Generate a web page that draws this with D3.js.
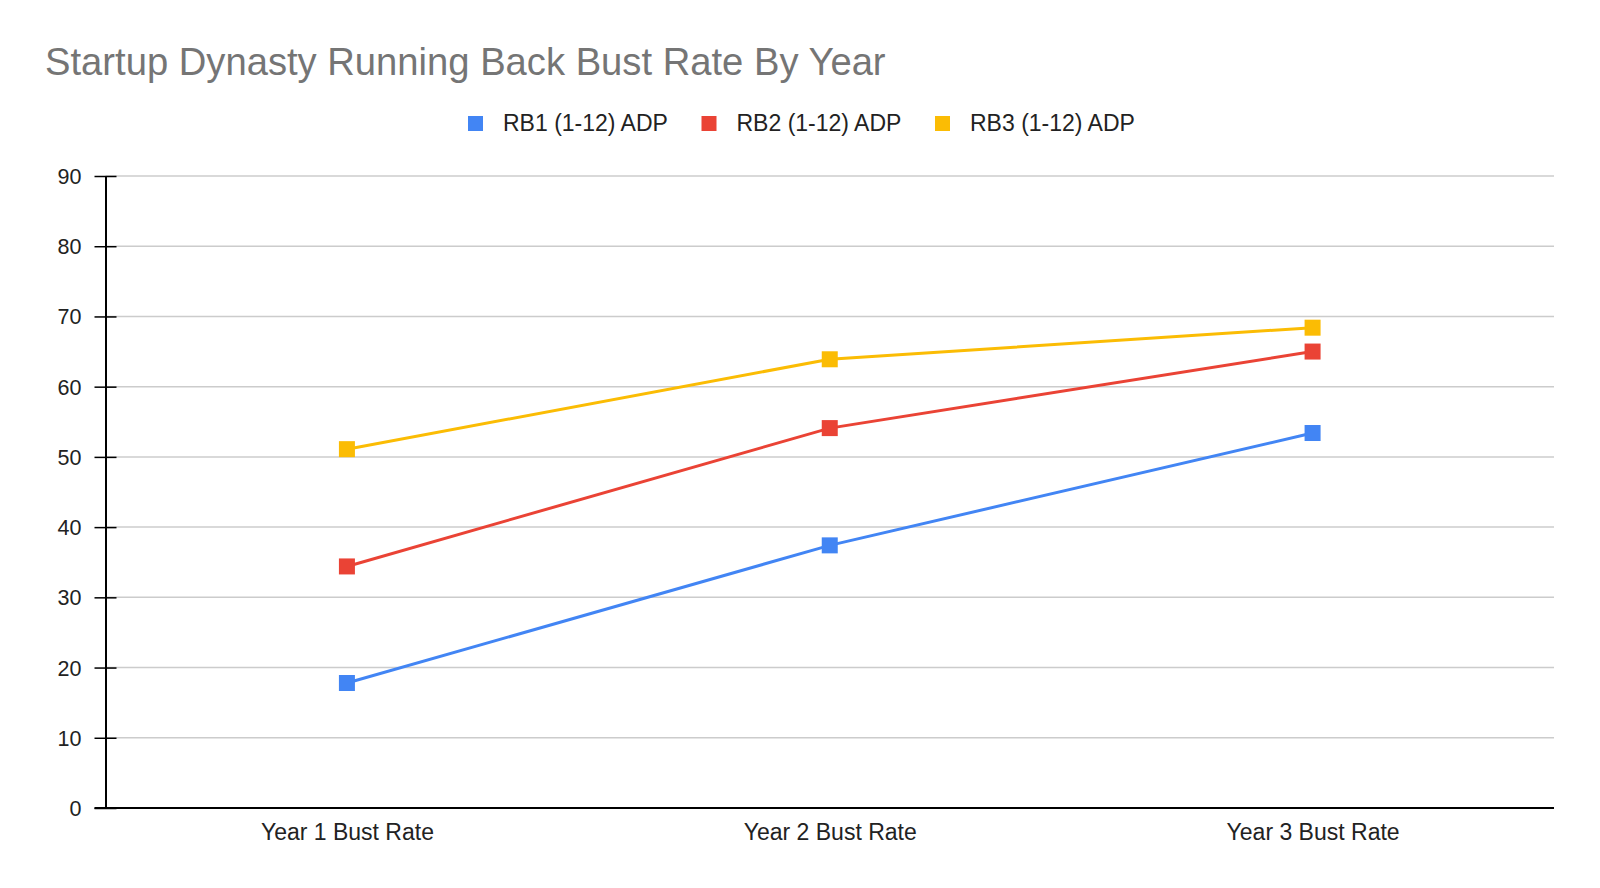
<!DOCTYPE html>
<html>
<head>
<meta charset="utf-8">
<script src="https://cdn.jsdelivr.net/npm/d3@7"></script>
<style>
  body { margin: 0; background: #fff; }
  text { font-family: "Liberation Sans", Arial, sans-serif; }
</style>
</head>
<body>
<svg id="chart" width="1600" height="888"></svg>
<script>
// data
var years = ["Year 1 Bust Rate", "Year 2 Bust Rate", "Year 3 Bust Rate"];
var seriesNames = ["RB1 (1-12) ADP", "RB2 (1-12) ADP", "RB3 (1-12) ADP"];
var seriesColors = ["#4285F4", "#EA4335", "#FBBC04"];
var rb1 = [17.8, 37.4, 53.4];
var rb2 = [34.4, 54.1, 65.0];
var rb3 = [51.1, 63.9, 68.4];
var yTicks = [0, 10, 20, 30, 40, 50, 60, 70, 80, 90];

var allSeries = [rb1, rb2, rb3];

var svg = d3.select("#chart");
var margin = { top: 176, right: 46, bottom: 80, left: 105.5 };
var width = 1600 - margin.left - margin.right;
var height = 888 - margin.top - margin.bottom;

var x = d3.scalePoint().domain(years).range([margin.left, margin.left + width]).padding(0.5);
var y = d3.scaleLinear().domain([0, 90]).range([margin.top + height, margin.top]);

// title
svg.append("text")
    .attr("x", 45)
    .attr("y", 75)
    .style("font-size", "38.2px")
    .style("fill", "#757575")
    .text("Startup Dynasty Running Back Bust Rate By Year");

// gridlines
svg.append("g")
    .selectAll("line")
    .data(yTicks.filter(function(d) { return d > 0; }))
    .enter().append("line")
    .attr("x1", margin.left)
    .attr("x2", margin.left + width)
    .attr("y1", function(d) { return y(d); })
    .attr("y2", function(d) { return y(d); })
    .style("stroke", "#cccccc")
    .style("stroke-width", 1.5);

// y axis
var yAxis = svg.append("g")
    .attr("transform", "translate(" + margin.left + ",0)")
    .call(d3.axisLeft(y).tickValues(yTicks).tickSize(0).tickPadding(24));
yAxis.select(".domain").style("stroke", "#000").style("stroke-width", 2);
yAxis.selectAll(".tick text").style("font-size", "21.5px").style("fill", "#222").attr("dy", "0.35em");
yAxis.selectAll(".tick").append("line")
    .attr("x1", -11).attr("x2", 11)
    .style("stroke", "#000").style("stroke-width", 1.5);

// x axis
var xAxis = svg.append("g")
    .attr("transform", "translate(0," + y(0) + ")")
    .call(d3.axisBottom(x).tickSize(0).tickPadding(16));
xAxis.select(".domain").attr("d", "M" + (margin.left - 11) + ",0H" + (margin.left + width))
    .style("stroke", "#000").style("stroke-width", 2);
xAxis.selectAll(".tick text").style("font-size", "23px").style("fill", "#222");

// lines and markers
var line = d3.line()
    .x(function(d, i) { return x(years[i]); })
    .y(function(d) { return y(d); });

allSeries.forEach(function(values, s) {
    svg.append("path")
        .datum(values)
        .attr("d", line)
        .style("fill", "none")
        .style("stroke", seriesColors[s])
        .style("stroke-width", 3);

    svg.selectAll(".m" + s)
        .data(values)
        .enter().append("rect")
        .attr("class", "m" + s)
        .attr("x", function(d, i) { return x(years[i]) - 8; })
        .attr("y", function(d) { return y(d) - 8; })
        .attr("width", 16)
        .attr("height", 16)
        .style("fill", seriesColors[s]);
});

// legend
var legend = svg.selectAll(".legend")
    .data(seriesNames)
    .enter().append("g")
    .attr("class", "legend")
    .attr("transform", function(d, i) { return "translate(" + (468 + i * 233.5) + ",123.5)"; });

legend.append("rect")
    .attr("x", 0).attr("y", -7.5)
    .attr("width", 15).attr("height", 15)
    .style("fill", function(d, i) { return seriesColors[i]; });

legend.append("text")
    .attr("x", 35)
    .attr("y", 7.5)
    .style("font-size", "23px")
    .style("fill", "#222")
    .text(function(d) { return d; });
</script>
</body>
</html>
